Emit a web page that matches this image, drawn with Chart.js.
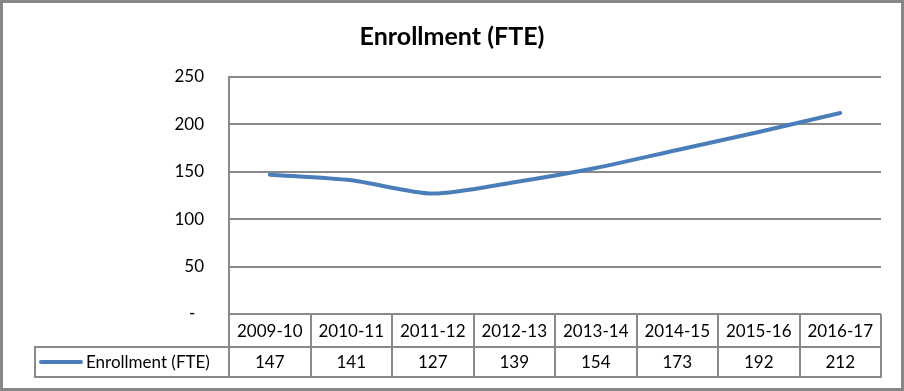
<!DOCTYPE html>
<html>
<head>
<meta charset="utf-8">
<script src="https://cdn.jsdelivr.net/npm/chart.js@4"></script>
<style>
    html, body { margin: 0; padding: 0; background: #fff; }
    #wrap { width: 904px; height: 391px; position: relative; }
</style>
</head>
<body>
<div id="wrap"><canvas id="enrollChart"></canvas></div>
<script>
const years = ['2009-10', '2010-11', '2011-12', '2012-13', '2013-14', '2014-15', '2015-16', '2016-17'];
const enrollment = [147, 141, 127, 139, 154, 173, 192, 212];
const yTicks = [0, 50, 100, 150, 200, 250];
const seriesName = 'Enrollment (FTE)';
const chartTitle = 'Enrollment (FTE)';

const lineColor = '#4a7ebb';
const gridColor = '#898989';
const fontFamily = 'Lato, "Liberation Sans", sans-serif';

// Excel-style data table below the plot, columns taken from the x scale
const dataTable = {
    id: 'dataTable',
    afterDraw(chart) {
        const ctx = chart.ctx;
        const x = chart.scales.x;
        const area = chart.chartArea;
        const top = area.bottom;
        const rowH = [33, 30];
        const legendLeft = 35;
        const half = (x.getPixelForValue(1) - x.getPixelForValue(0)) / 2;

        ctx.save();
        // title, centred on the whole chart
        ctx.fillStyle = '#000';
        ctx.font = 'bold 25px ' + fontFamily;
        ctx.textAlign = 'center';
        ctx.textBaseline = 'alphabetic';
        ctx.fillText(chartTitle, chart.width / 2, 45);

        ctx.strokeStyle = gridColor;
        ctx.lineWidth = 2;

        // horizontal lines
        const r1 = top + rowH[0];
        const r2 = r1 + rowH[1];
        ctx.beginPath();
        ctx.moveTo(legendLeft, r1);
        ctx.lineTo(area.right, r1);
        ctx.moveTo(legendLeft, r2);
        ctx.lineTo(area.right, r2);
        ctx.moveTo(legendLeft, r1 - 1);
        ctx.lineTo(legendLeft, r2 + 1);
        // vertical column lines
        years.forEach((y, i) => {
            const right = Math.round(x.getPixelForValue(i) + half);
            ctx.moveTo(right, top);
            ctx.lineTo(right, r2 + 1);
        });
        const left = Math.round(area.left);
        ctx.moveTo(left, top);
        ctx.lineTo(left, r2 + 1);
        ctx.stroke();

        ctx.font = '17px ' + fontFamily;
        ctx.textAlign = 'center';
        ctx.textBaseline = 'middle';
        years.forEach((y, i) => {
            const cx = x.getPixelForValue(i);
            ctx.fillText(y, cx, top + rowH[0] / 2 + 1);
            ctx.fillText(String(enrollment[i]), cx, r1 + rowH[1] / 2 + 1);
        });

        // legend key
        const ly = r1 + rowH[1] / 2;
        ctx.strokeStyle = lineColor;
        ctx.lineWidth = 4;
        ctx.lineCap = 'round';
        ctx.beginPath();
        ctx.moveTo(41, ly);
        ctx.lineTo(81, ly);
        ctx.stroke();
        ctx.textAlign = 'left';
        ctx.fillText(seriesName, 86, ly + 1);

        // outer frame
        ctx.strokeStyle = '#878787';
        ctx.lineWidth = 3;
        ctx.lineCap = 'butt';
        ctx.strokeRect(1.5, 1.5, chart.width - 3, chart.height - 3);
        ctx.restore();
    }
};

const ctx = document.getElementById('enrollChart').getContext('2d');
new Chart(ctx, {
    type: 'line',
    data: {
        labels: years,
        datasets: [{
            label: seriesName,
            data: enrollment,
            borderColor: lineColor,
            backgroundColor: lineColor,
            borderWidth: 4,
            pointRadius: 0,
            tension: 0.25,
            borderCapStyle: 'round'
        }]
    },
    options: {
        responsive: true,
        maintainAspectRatio: false,
        animation: false,
        layout: { padding: { left: 0, right: 23, top: 77, bottom: 77 } },
        plugins: {
            legend: { display: false },
            tooltip: { enabled: false },
            title: { display: false }
        },
        scales: {
            x: {
                display: false,
                offset: true
            },
            y: {
                min: 0,
                max: 250,
                afterBuildTicks: (scale) => { scale.ticks = yTicks.map(v => ({ value: v })); },
                afterFit: (scale) => { scale.width = 229; },
                ticks: {
                    padding: 25,
                    color: '#000',
                    font: { family: fontFamily, size: 17 },
                    // accounting-style zero
                    callback: (v) => v === 0 ? '-  ' : v
                },
                grid: { color: gridColor, lineWidth: 2, drawTicks: false },
                border: { color: gridColor, width: 2 }
            }
        }
    },
    plugins: [dataTable]
});
</script>
</body>
</html>
